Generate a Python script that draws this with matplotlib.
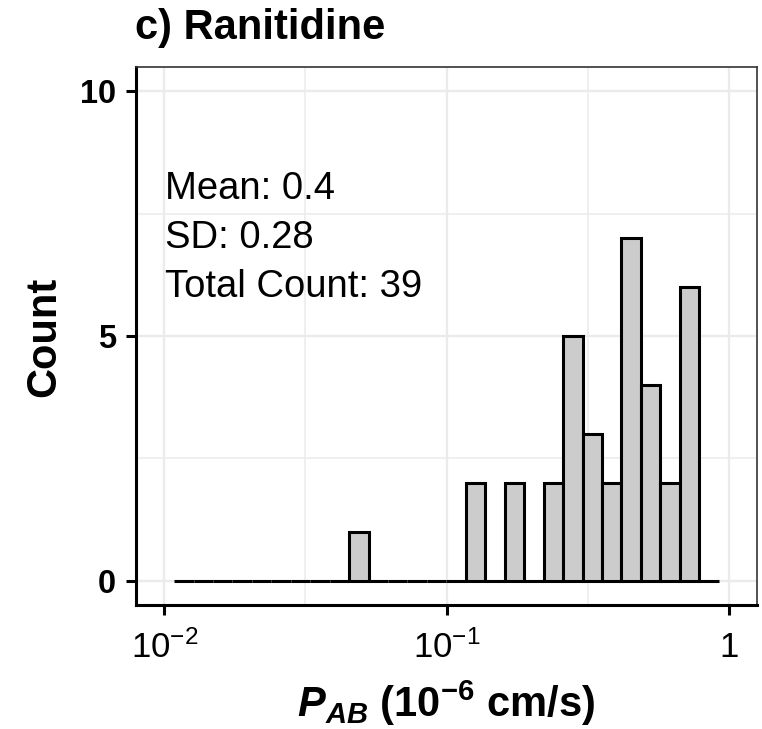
import numpy as np
import matplotlib
matplotlib.use("Agg")
import matplotlib.pyplot as plt
from matplotlib.ticker import FixedLocator, FixedFormatter

plt.rcParams['font.family'] = ['Liberation Sans', 'DejaVu Sans']
plt.rcParams['mathtext.fontset'] = 'custom'
plt.rcParams['mathtext.rm'] = 'Liberation Sans'
plt.rcParams['mathtext.it'] = 'Liberation Sans:italic'
plt.rcParams['mathtext.bf'] = 'Liberation Sans:bold'
plt.rcParams['mathtext.bfit'] = 'Liberation Sans:italic:bold'
plt.rcParams['mathtext.sf'] = 'Liberation Sans'

# ---- data ----
title = "c) Ranitidine"
bin_start_log10 = -1.965          # left edge of first bin (log10 P_AB)
bin_width_log10 = 0.0689          # bin width in log10 units
counts = [0, 0, 0, 0, 0, 0, 0, 0, 0, 1, 0, 0, 0, 0, 0, 2, 0, 2, 0, 2, 5, 3, 2, 7, 4, 2, 6, 0]
stat_mean = 0.4
stat_sd = 0.28
stat_n = 39
x_ticks = [1e-2, 1e-1, 1]
x_tick_labels = [r'$10^{-2}$', r'$10^{-1}$', '1']
x_minor = [10**-1.5, 10**-0.5]
y_ticks = [0, 5, 10]
y_minor = [2.5, 7.5]

# ---- figure ----
W, H = 762, 729
fig = plt.figure(figsize=(W/100, H/100), dpi=100)
L, R, T, B = 136, 757, 67, 605
ax = fig.add_axes([L/W, (H-B)/H, (R-L)/W, (B-T)/H])

edges = 10 ** (bin_start_log10 + bin_width_log10 * np.arange(len(counts) + 1))
ax.bar(edges[:-1], counts, width=np.diff(edges), align='edge',
       color='#CCCCCC', edgecolor='black', linewidth=2.2, zorder=3)

ax.set_xscale('log')
ax.set_xlim(10**-2.1, 10**0.1)
ax.set_ylim(-0.5, 10.5)

ax.xaxis.set_major_locator(FixedLocator(x_ticks))
ax.xaxis.set_major_formatter(FixedFormatter(x_tick_labels))
ax.xaxis.set_minor_locator(FixedLocator(x_minor))
ax.yaxis.set_major_locator(FixedLocator(y_ticks))
ax.yaxis.set_minor_locator(FixedLocator(y_minor))

ax.grid(True, which='major', color='#EBEBEB', linewidth=1.7)
ax.grid(True, which='minor', color='#EBEBEB', linewidth=1.1)
ax.set_axisbelow(True)

ax.tick_params(axis='both', which='major', length=7.5, width=2.2, color='black')
ax.tick_params(axis='both', which='minor', length=0)
ax.tick_params(axis='x', labelsize=25, pad=11)
ax.tick_params(axis='y', labelsize=23.5, pad=7)
for lab in ax.get_yticklabels():
    lab.set_fontweight('bold')

for s in ['top', 'right']:
    ax.spines[s].set_color('#333333')
    ax.spines[s].set_linewidth(1.2)
for s in ['left', 'bottom']:
    ax.spines[s].set_color('black')
    ax.spines[s].set_linewidth(2.2)

# annotation
ann = [f"Mean: {stat_mean}", f"SD: {stat_sd}", f"Total Count: {stat_n}"]
for i, t in enumerate(ann):
    ax.text(0.0101, 8 - i, t, fontsize=27.5, ha='left', va='center', zorder=4)

# title and axis titles
fig.text(135/W, 1 - 28/H, title, fontsize=30, fontweight='bold', ha='left', va='center')
fig.text(44/W, 1 - 337/H, "Count", fontsize=30, fontweight='bold', rotation=90,
         ha='center', va='center')
fig.text(446/W, 12/H,
         r'$\mathbfit{P}_{\mathbfit{AB}}\ \mathbf{(10^{-6}\ cm/s)}$',
         fontsize=30, ha='center', va='baseline')

fig.savefig('out.png', dpi=100)
